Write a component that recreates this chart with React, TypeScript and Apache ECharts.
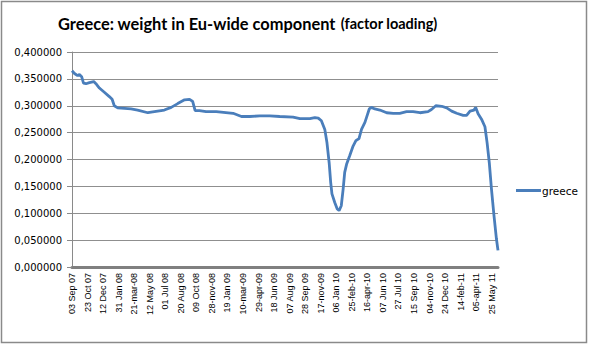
import { useEffect, useRef } from 'react';
import * as echarts from 'echarts';

const tickLabels = [
  '03 Sep 07', '23 Oct 07', '12 Dec 07', '31 Jan 08', '21-mar-08', '12 May 08', '01 Jul 08',
  '20 Aug 08', '09 Oct 08', '28-nov-08', '19 Jan 09', '10-mar-09', '29-apr-09', '18 Jun 09',
  '07 Aug 09', '28 Sep 09', '17-nov-09', '06 Jan 10', '25-feb-10', '16-apr-10', '07 Jun 10',
  '27 Jul 10', '15 Sep 10', '04-nov-10', '24 Dec 10', '14-feb-11', '05-apr-11', '25 May 11',
];

// days elapsed since 03 Sep 07 (one tick label every 50 days)
const sampleDays = [
  0, 8, 18, 24, 31, 37, 45, 56, 70, 77,
  88, 104, 120, 129, 136, 147, 169, 190, 211, 244,
  265, 297, 319, 340, 362, 378, 388, 396, 410, 431,
  464, 518, 545, 572, 604, 636, 668, 711, 733, 765,
  781, 792, 802, 813, 820, 827, 832, 836, 845, 853,
  859, 866, 872, 877, 883, 893, 904, 913, 923, 931,
  942, 947, 956, 963, 974, 990, 1012, 1033, 1054, 1076,
  1097, 1119, 1145, 1156, 1170, 1189, 1205, 1221, 1237, 1258,
  1269, 1280, 1293, 1298, 1306, 1317, 1328, 1335, 1342, 1349,
  1357, 1365, 1370,
];

const greece = [
  0.365, 0.360, 0.356, 0.358, 0.354, 0.342, 0.341, 0.343, 0.345, 0.341,
  0.333, 0.325, 0.317, 0.312, 0.300, 0.296, 0.295, 0.294, 0.292, 0.287,
  0.289, 0.292, 0.297, 0.304, 0.311, 0.312, 0.308, 0.291, 0.291, 0.289,
  0.289, 0.286, 0.280, 0.280, 0.281, 0.281, 0.280, 0.279, 0.276, 0.276,
  0.278, 0.277, 0.272, 0.256, 0.231, 0.194, 0.157, 0.136, 0.120, 0.108,
  0.105, 0.114, 0.145, 0.176, 0.191, 0.207, 0.225, 0.235, 0.239, 0.256,
  0.269, 0.278, 0.294, 0.297, 0.294, 0.292, 0.287, 0.286, 0.286, 0.289,
  0.289, 0.287, 0.289, 0.293, 0.300, 0.299, 0.296, 0.290, 0.286, 0.282,
  0.282, 0.290, 0.292, 0.297, 0.285, 0.275, 0.261, 0.231, 0.194, 0.145,
  0.096, 0.052, 0.031,
];

const LAST_DAY = 1370;

export default function App() {
  const ref = useRef<HTMLDivElement>(null);

  useEffect(() => {
    if (!ref.current) return;
    const chart = echarts.init(ref.current, undefined, { renderer: 'svg' });
    const data = sampleDays.map((d, i) => [d, greece[i]]);
    chart.setOption({
      animation: false,
      backgroundColor: '#ffffff',
      title: {
        left: 58,
        top: 13,
        padding: 0,
        text: '{a|Greece: weight in Eu-wide component} {b|(factor loading)}',
        textStyle: {
          rich: {
            a: { fontFamily: 'Lato', fontWeight: 'bold', fontSize: 16.4, color: '#000', verticalAlign: 'bottom' },
            b: { fontFamily: 'Lato', fontWeight: 'bold', fontSize: 14.5, color: '#000', verticalAlign: 'bottom' },
          },
        },
      },
      legend: {
        data: ['greece'],
        left: 516,
        top: 185,
        padding: 0,
        icon: 'rect',
        itemWidth: 25,
        itemHeight: 3,
        itemGap: 0,
        textStyle: { fontFamily: 'DejaVu Sans', fontSize: 10.5, color: '#000', padding: [0, 0, 0, -4] },
      },
      grid: { left: 72, right: 92, top: 52, bottom: 78, containLabel: false },
      xAxis: {
        type: 'value',
        min: 0,
        max: LAST_DAY,
        interval: 50,
        splitLine: { show: false },
        axisTick: { show: false },
        axisLine: { show: true, lineStyle: { color: '#808080', width: 3 } },
        axisLabel: {
          rotate: 90,
          margin: 6,
          showMaxLabel: false,
          fontFamily: 'Liberation Sans',
          fontSize: 9,
          color: '#000',
          formatter: (v: number) => {
            const idx = v / 50;
            return Number.isInteger(idx) && tickLabels[idx] ? tickLabels[idx] : '';
          },
        },
      },
      yAxis: {
        type: 'value',
        min: 0,
        max: 0.4,
        interval: 0.05,
        axisLine: { show: true, lineStyle: { color: '#8a8a8a', width: 1 } },
        axisTick: { show: true, length: 5, lineStyle: { color: '#8a8a8a' } },
        splitLine: { show: true, lineStyle: { color: '#8f8f8f', width: 1 } },
        axisLabel: {
          margin: 10,
          fontFamily: 'DejaVu Sans',
          fontSize: 10,
          color: '#000',
          formatter: (v: number) => v.toFixed(6).replace('.', ','),
        },
      },
      series: [
        {
          name: 'greece',
          type: 'line',
          data,
          showSymbol: false,
          symbol: 'none',
          color: '#4a7ebb',
          lineStyle: { color: '#4a7ebb', width: 2.8 },
        },
      ],
      graphic: [
        {
          type: 'rect',
          silent: true,
          shape: { x: 1.5, y: 1.5, width: 585, height: 341 },
          style: { fill: 'none', stroke: '#8a8a8a', lineWidth: 1.5 },
        },
      ],
    });
    return () => chart.dispose();
  }, []);

  return (
    <div
      ref={ref}
      style={{ position: 'absolute', left: 0, top: 0, width: 590, height: 345 }}
    />
  );
}
